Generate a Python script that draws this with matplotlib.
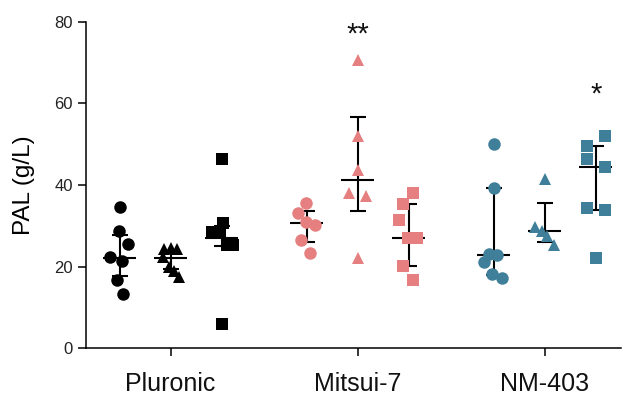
"""Dot plot of PAL titre per surfactant, three conditions each."""

import matplotlib.pyplot as plt

plt.rcParams["font.family"] = ["Liberation Sans", "DejaVu Sans"]

groups = ["Pluronic", "Mitsui-7", "NM-403"]
colors = ["#000000", "#E67F7F", "#3F7F99"]
markers = ["o", "^", "s"]

# values per group, per marker (circle, triangle, square)
values = [
    [
        [34.7, 28.6, 25.6, 22.3, 21.3, 16.7, 13.3],
        [24.3, 24.5, 24.3, 22.4, 20.0, 18.8, 17.5],
        [46.4, 30.6, 28.7, 28.4, 25.3, 25.3, 5.8],
    ],
    [
        [35.5, 33.2, 31.0, 30.2, 26.5, 23.3],
        [70.6, 51.9, 43.7, 38.0, 37.3, 22.1],
        [38.1, 35.4, 31.4, 27.0, 27.0, 20.2, 16.7],
    ],
    [
        [50.1, 39.2, 23.1, 22.9, 21.2, 18.2, 17.2],
        [41.4, 29.8, 28.6, 27.4, 25.3],
        [51.9, 49.6, 46.3, 44.4, 34.3, 33.9, 22.1],
    ],
]
# horizontal scatter of each point
jitter = [
    [
        [0.0, -0.005, 0.043, -0.053, 0.016, -0.016, 0.019],
        [-0.037, 0.0, 0.032, -0.043, -0.011, 0.016, 0.043],
        [0.003, 0.008, -0.011, -0.053, 0.027, 0.059, 0.003],
    ],
    [
        [-0.003, -0.048, -0.003, 0.047, -0.030, 0.018],
        [0.0, 0.0, 0.0, -0.044, 0.047, 0.0],
        [0.021, -0.032, -0.050, -0.005, 0.043, -0.032, 0.021],
    ],
    [
        [0.0, 0.0, -0.027, 0.018, -0.050, -0.009, 0.045],
        [0.0, -0.050, -0.014, 0.013, 0.048],
        [0.048, -0.044, -0.044, 0.048, -0.044, 0.048, 0.0],
    ],
]
# median line and interval ends
center = [[22.0, 22.2, 27.1], [30.6, 41.1, 27.0], [22.9, 28.6, 44.4]]
lower = [[17.7, 19.4, 25.1], [25.9, 33.5, 20.2], [18.0, 26.1, 33.9]]
upper = [[27.8, 23.5, 30.0], [33.7, 56.6, 35.4], [39.2, 35.5, 49.6]]
stars = [("", 0), ("**", 1), ("*", 2)]  # (label, subgroup index)
star_y = [0, 75.0, 60.3]

fig = plt.figure(figsize=(6.22, 3.96), dpi=100)
ax = fig.add_axes([0.138, 0.121, 0.860, 0.824])

offset = 0.273
for g in range(len(groups)):
    for k in range(3):
        x0 = g + (k - 1) * offset
        ax.errorbar(
            [x0], [center[g][k]],
            yerr=[[center[g][k] - lower[g][k]], [upper[g][k] - center[g][k]]],
            fmt="none", ecolor="black", elinewidth=1.5, capsize=5.8,
            capthick=1.5, zorder=2,
        )
        ax.hlines(center[g][k], x0 - 0.088, x0 + 0.088, color="black",
                  linewidth=1.5, zorder=2)
        xs = [x0 + j for j in jitter[g][k]]
        size = 8.0 if markers[k] == "s" else 9.0
        ax.plot(xs, values[g][k], linestyle="none", marker=markers[k],
                markersize=size, color=colors[g], markeredgewidth=0, zorder=3)
    label, k = stars[g]
    if label:
        ax.text(g + (k - 1) * offset, star_y[g], label, ha="center",
                va="baseline", fontsize=21, color="#111111")

ax.set_xlim(-0.453, 2.407)
ax.set_ylim(0, 80)
ax.set_yticks([0, 20, 40, 60, 80])
ax.set_xticks(range(len(groups)))
ax.set_xticklabels(groups, fontsize=18)
ax.tick_params(axis="y", labelsize=12, length=6, width=1.1, pad=3.5,
               labelcolor="#222222")
ax.tick_params(axis="x", length=6, width=1.1, pad=11, labelcolor="#111111")
ax.set_ylabel("PAL (g/L)", fontsize=17.5, labelpad=14)
for side in ["top", "right"]:
    ax.spines[side].set_visible(False)
for side in ["left", "bottom"]:
    ax.spines[side].set_linewidth(1.1)

fig.savefig("out.png", dpi=100)
